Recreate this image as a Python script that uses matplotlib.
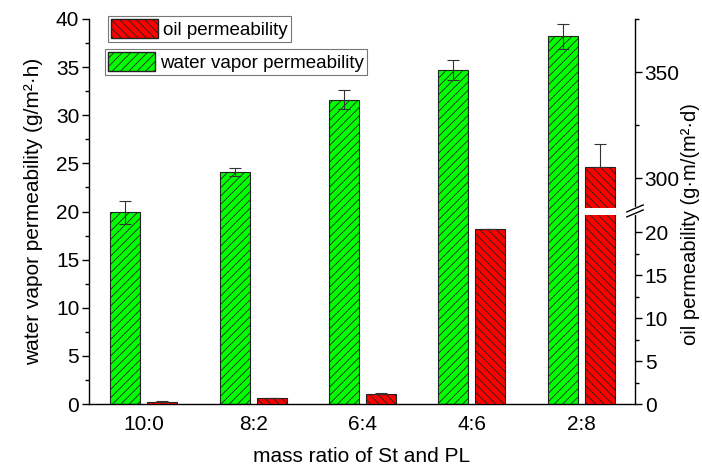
import numpy as np
import matplotlib
matplotlib.use('Agg')
import matplotlib.pyplot as plt
from matplotlib.patches import Patch
from matplotlib.ticker import FixedLocator, MultipleLocator

plt.rcParams['font.family'] = ['Liberation Sans', 'DejaVu Sans']
plt.rcParams['hatch.linewidth'] = 0.6

ratios = ['10:0', '8:2', '6:4', '4:6', '2:8']
water = [19.9, 24.1, 31.6, 34.7, 38.2]
water_err = [1.2, 0.4, 1.0, 1.0, 1.3]
oil = [0.27, 0.66, 1.15, 20.3, 305.0]
oil_err = [0.08, 0.05, 0.1, 0.05, 11.0]

# broken right axis: oil value -> position on the left (water) scale
brk_lo, brk_hi = 22.0, 285.7
oil_pts = [0.0, brk_lo, brk_hi, 375.0]
pos_pts = [0.0, 19.65, 20.33, 40.0]


def fwd(v):
    return np.interp(v, oil_pts, pos_pts)


def inv(u):
    return np.interp(u, pos_pts, oil_pts)


fig = plt.figure(figsize=(7.02, 4.67), dpi=100)
ax = fig.add_axes([89 / 702, 1 - 404 / 467, 546 / 702, 385 / 467])
ax2 = ax.twinx()
ax2.set_yscale('function', functions=(fwd, inv))

x = np.arange(len(ratios))
w = 0.274
off = 0.169
edge = '#222222'

ax.bar(x - off, water, w, color='#00ff00', edgecolor=edge, linewidth=0.8,
       hatch='////', zorder=2)
ax.errorbar(x - off, water, yerr=water_err, fmt='none', ecolor='#333333',
            elinewidth=0.8, capsize=4, capthick=0.8, zorder=3)

ax2.bar(x + off, oil, w, color='#ff0000', edgecolor=edge, linewidth=0.8,
        hatch='\\\\\\\\', zorder=2)
ax2.errorbar(x + off, oil, yerr=[np.zeros(len(oil)), oil_err], fmt='none',
             ecolor='#333333', elinewidth=0.8, capsize=4, capthick=0.8, zorder=3)
# white gap across the broken bar
big = [i for i, v in enumerate(oil) if v > brk_hi]
ax2.bar(x[big] + off, brk_hi - brk_lo, w * 1.08, bottom=brk_lo, color='white',
        edgecolor='none', zorder=4)

ax.set_xlim(-0.5, 4.49)
ax.set_ylim(0, 40)
ax2.set_ylim(0, 375)

ax.set_xticks(x)
ax.set_xticklabels(ratios)
ax.yaxis.set_major_locator(MultipleLocator(5))
ax.yaxis.set_minor_locator(MultipleLocator(2.5))
ax2.yaxis.set_major_locator(FixedLocator([0, 5, 10, 15, 20, 300, 350]))
ax2.yaxis.set_minor_locator(FixedLocator([2.5, 7.5, 12.5, 17.5, 325, 375]))
ax2.yaxis.set_major_formatter(matplotlib.ticker.FormatStrFormatter('%g'))
ax2.yaxis.set_minor_formatter(matplotlib.ticker.NullFormatter())

for a in (ax, ax2):
    a.spines['top'].set_visible(False)
    for s in a.spines.values():
        s.set_linewidth(1.0)
    a.tick_params(axis='y', which='major', direction='out', length=5,
                  width=1.0, labelsize=15, pad=2)
    a.tick_params(axis='y', which='minor', direction='out', length=3, width=1.0)
ax.spines['right'].set_visible(False)
ax2.spines['left'].set_visible(False)
ax2.spines['bottom'].set_visible(False)
ax.tick_params(axis='x', length=0, labelsize=15, pad=8)

ax.set_xlabel('mass ratio of St and PL', fontsize=15, labelpad=9)
ax.set_ylabel('water vapor permeability (g/m²·h)', fontsize=15, labelpad=9)
ax2.set_ylabel('oil permeability (g·m/(m²·d)', fontsize=14.5)
ax2.yaxis.set_label_coords((681 - 89) / 546, (404 - 224) / 385)

# break marks on the right spine
yb = 0.5015
ax2.plot([1, 1], [yb - 0.006, yb + 0.006], color='white', lw=3,
         transform=ax2.transAxes, clip_on=False, zorder=5)
for dy in (-0.0065, 0.0065):
    ax2.plot([1 - 0.015, 1 + 0.015], [yb + dy - 0.009, yb + dy + 0.009],
             color='black', lw=1.0, transform=ax2.transAxes, clip_on=False,
             zorder=6)

leg_kw = dict(loc='upper left', fontsize=13.5, frameon=True, fancybox=False,
              borderpad=0.15, handlelength=2.5, handleheight=1.2,
              handletextpad=0.3, borderaxespad=0, bbox_transform=fig.transFigure)
l1 = ax2.legend(handles=[Patch(facecolor='#ff0000', edgecolor=edge,
                               hatch='\\\\\\\\', label='oil permeability')],
                bbox_to_anchor=(108 / 702, 1 - 16 / 467), **leg_kw)
l2 = ax.legend(handles=[Patch(facecolor='#00ff00', edgecolor=edge,
                              hatch='////', label='water vapor permeability')],
               bbox_to_anchor=(105 / 702, 1 - 49 / 467), **leg_kw)
for lg in (l1, l2):
    lg.get_frame().set_edgecolor('#555555')
    lg.get_frame().set_linewidth(0.8)

fig.savefig('out.png', dpi=100)
